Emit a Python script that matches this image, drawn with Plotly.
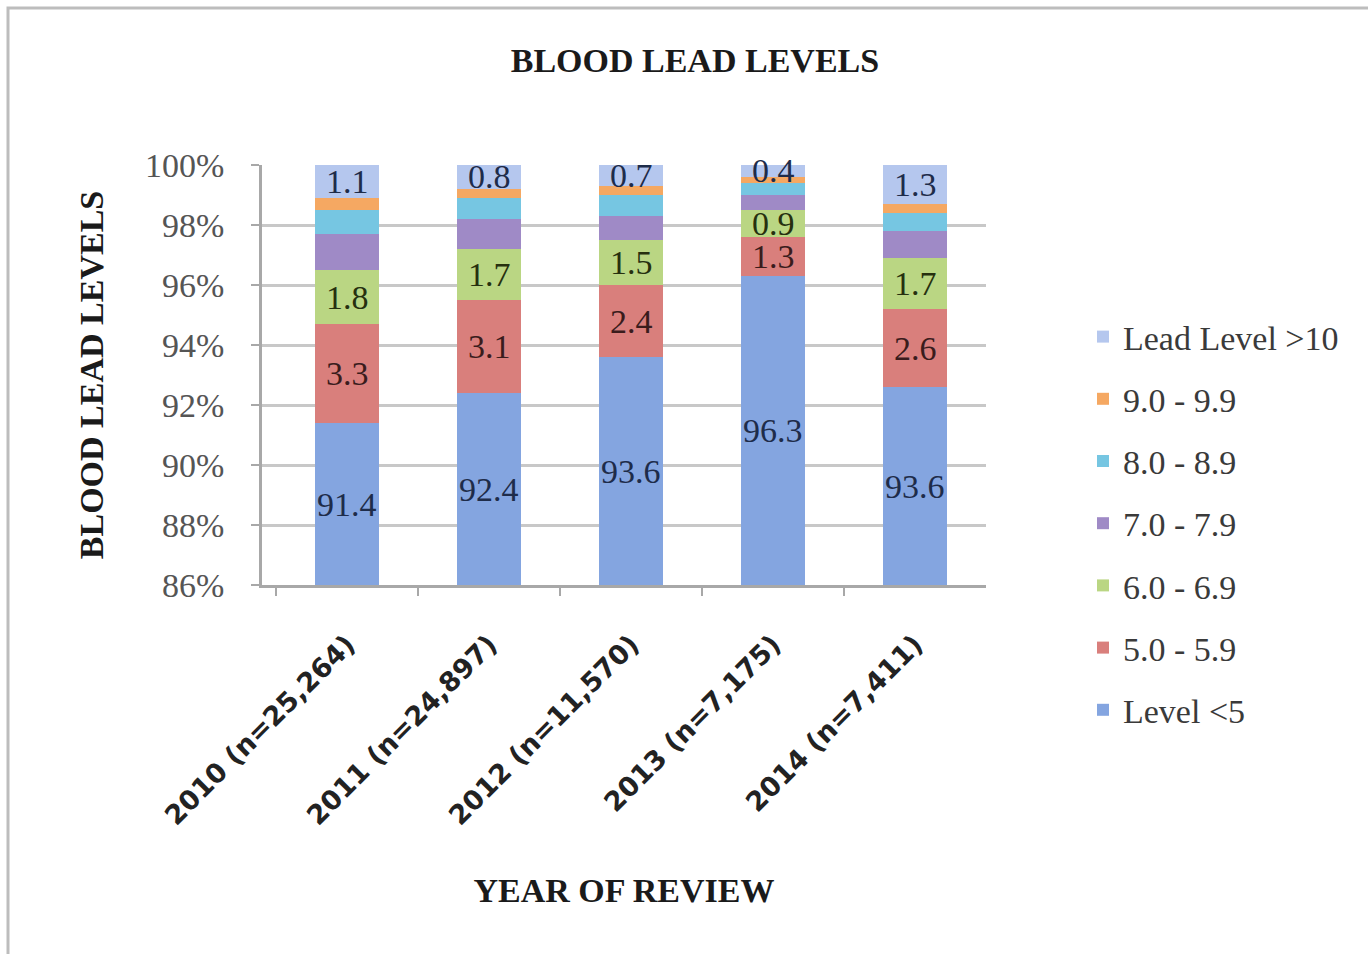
import plotly.graph_objects as go

# ---------------- data ----------------
categories = ["2010 (n=25,264)", "2011 (n=24,897)", "2012 (n=11,570)",
              "2013 (n=7,175)", "2014 (n=7,411)"]
series_names = ["Level <5", "5.0 - 5.9", "6.0 - 6.9", "7.0 - 7.9",
                "8.0 - 8.9", "9.0 - 9.9", "Lead Level >10"]
level_lt5 = [91.4, 92.4, 93.6, 96.3, 92.6]
level_lt5_labels = ["91.4", "92.4", "93.6", "96.3", "93.6"]
level_5 = [3.3, 3.1, 2.4, 1.3, 2.6]
level_6 = [1.8, 1.7, 1.5, 0.9, 1.7]
level_7 = [1.2, 1.0, 0.8, 0.5, 0.9]
level_8 = [0.8, 0.7, 0.7, 0.4, 0.6]
level_9 = [0.4, 0.3, 0.3, 0.2, 0.3]
level_gt10 = [1.1, 0.8, 0.7, 0.4, 1.3]
y_ticks = [86, 88, 90, 92, 94, 96, 98, 100]
y_tick_text = [f"{v}%" for v in y_ticks]
Y_MIN, Y_MAX = 86, 100

series_values = [level_lt5, level_5, level_6, level_7, level_8, level_9, level_gt10]
series_labels = [level_lt5_labels,
                 [f"{v:.1f}" for v in level_5],
                 [f"{v:.1f}" for v in level_6],
                 None, None, None,
                 [f"{v:.1f}" for v in level_gt10]]
colors = ["#84A5E0", "#D97F7C", "#BAD683", "#9F8AC6", "#76C6E2", "#F5A862", "#B5C7EE"]
label_colors = ["#1E2C4A", "#3A1C1C", "#26300F", None, None, None, "#1E2C4A"]

SERIF = "Liberation Serif, Times New Roman, serif"
SANS = "DejaVu Sans, Verdana, sans-serif"
W, H = 1368, 954

fig = go.Figure()
n = len(series_names)
base = [0.0] * len(categories)
for i, (name, vals, labels, col, lcol) in enumerate(zip(series_names, series_values,
                                                        series_labels, colors, label_colors)):
    fig.add_trace(go.Bar(
        x=categories, y=vals, name=name, marker=dict(color=col, line=dict(width=0)),
        legendgroup=name, legendrank=n - i, cliponaxis=False))
    if labels is not None:
        for j, (cat, v, lab) in enumerate(zip(categories, vals, labels)):
            lo = max(base[j], Y_MIN)          # centre within the visible part
            hi = base[j] + v
            fig.add_annotation(x=cat, y=(lo + hi) / 2, text=lab, showarrow=False,
                               xref="x", yref="y",
                               font=dict(family=SERIF, size=34, color=lcol))
    base = [b + v for b, v in zip(base, vals)]

fig.update_layout(
    width=W, height=H,
    barmode="stack", bargap=0.55,
    paper_bgcolor="white", plot_bgcolor="white",
    margin=dict(l=0, r=0, t=0, b=0),
    font=dict(family=SERIF, color="#333333"),
    title=dict(text="<b>BLOOD LEAD LEVELS</b>", x=0.508, xref="container",
               y=1 - 60 / H, yref="container", yanchor="middle", xanchor="center",
               font=dict(family=SERIF, size=34, color="#1A1A1A")),
    legend=dict(traceorder="grouped", tracegroupgap=15,
                x=1083 / W, xanchor="left", y=1 - 308 / H, yanchor="top",
                font=dict(family=SERIF, size=34, color="#3A3A3A"),
                bgcolor="rgba(0,0,0,0)"),
    showlegend=True,
)
fig.update_yaxes(
    domain=[1 - 585 / H, 1 - 165 / H], automargin=False,
    range=[Y_MIN, Y_MAX], tickvals=y_ticks, ticktext=y_tick_text,
    tickfont=dict(family=SERIF, size=34, color="#555555"),
    showgrid=True, gridcolor="#C8C8C8", gridwidth=2.5,
    showline=True, linecolor="#A8A8A8", linewidth=2.5,
    ticks="outside", ticklen=8, tickcolor="#A8A8A8", tickwidth=2,
    ticklabelstandoff=20,
    title=dict(text="<b>BLOOD LEAD LEVELS</b>", standoff=32,
               font=dict(family=SERIF, size=34, color="#1A1A1A")),
    zeroline=False,
)
fig.update_xaxes(
    domain=[262 / W, 986 / W], automargin=False,
    range=[-0.6, 4.5], tickangle=-45,
    tickfont=dict(family=SANS, size=27, color="#222222", weight="bold"),
    showline=True, linecolor="#A8A8A8", linewidth=2.5,
    ticks="outside", ticklen=8, tickcolor="#A8A8A8", tickwidth=2,
    tickson="boundaries", ticklabelstandoff=30,
    title=dict(text="<b>YEAR OF REVIEW</b>", standoff=49,
               font=dict(family=SERIF, size=34, color="#1A1A1A")),
)
# outer chart frame
fig.add_shape(type="rect", xref="paper", yref="paper",
              x0=8 / W, x1=1.05, y0=-0.05, y1=1 - 8 / H,
              line=dict(color="#BDBDBD", width=3), fillcolor="rgba(0,0,0,0)",
              layer="below")

fig.write_html("out.html", config={"displayModeBar": False},
               post_script="document.body.style.margin='0';document.body.style.overflow='hidden';")
